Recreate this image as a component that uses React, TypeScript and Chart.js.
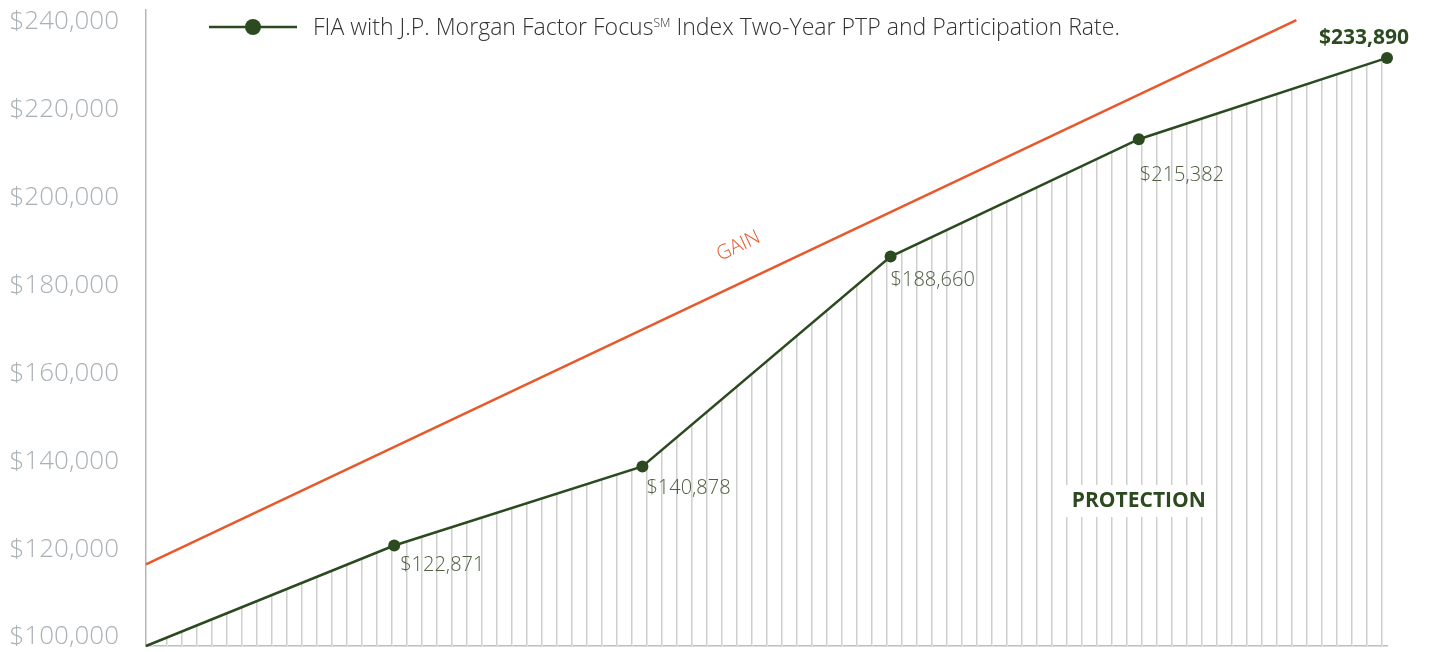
import React, { useEffect, useRef } from "react";
import { Chart, registerables } from "chart.js";

Chart.register(...registerables);

// ---- data ----
const years = [0, 2, 4, 6, 8, 10];
const fiaValues = [100000, 122871, 140878, 188660, 215382, 233890];
const gainYears = [0, 9.27];
const gainValues = [118600, 242500];
const yTickValues = [100000, 120000, 140000, 160000, 180000, 200000, 220000, 240000];
const legendParts = ["FIA with J.P. Morgan Factor Focus", "SM", " Index Two-Year PTP and Participation Rate."];
const gainText = "GAIN";
const protectionText = "PROTECTION";
const protectionAt = { x: 8, y: 133000 };

// ---- styles ----
const GREEN = "#2c4a1f";
const ORANGE = "#e8582a";
const LABEL_GREEN = "#4f5f40";
const FONT = "'Open Sans', 'DejaVu Sans', sans-serif";
const valueLabelOffsets = [
  [0, 0],
  [6, 20],
  [4, 22],
  [0, 24],
  [1, 36],
];

const fmt = (v: number) => "$" + v.toLocaleString("en-US");

const annotationsPlugin = {
  id: "annotations",
  afterDatasetsDraw(chart: any) {
    const ctx: CanvasRenderingContext2D = chart.ctx;
    const fiaMeta = chart.getDatasetMeta(0);
    const gainMeta = chart.getDatasetMeta(1);
    const xs = chart.scales.x;
    const ys = chart.scales.y;
    ctx.save();
    ctx.textBaseline = "middle";
    fiaValues.forEach((v, i) => {
      const pt = fiaMeta.data[i];
      if (i === 0) return;
      if (i === fiaValues.length - 1) {
        ctx.font = `bold 21px ${FONT}`;
        ctx.fillStyle = GREEN;
        ctx.textAlign = "right";
        ctx.fillText(fmt(v), pt.x + 22, pt.y - 20);
      } else {
        ctx.font = `300 20px ${FONT}`;
        ctx.fillStyle = LABEL_GREEN;
        ctx.textAlign = "left";
        const [dx, dy] = valueLabelOffsets[i];
        ctx.fillText(fmt(v), pt.x + dx, pt.y + dy);
      }
    });
    const g0 = gainMeta.data[0];
    const g1 = gainMeta.data[1];
    const ang = Math.atan2(g1.y - g0.y, g1.x - g0.x);
    const t = 0.515;
    const gx = g0.x + t * (g1.x - g0.x);
    const gy = g0.y + t * (g1.y - g0.y) - 38;
    ctx.save();
    ctx.translate(gx, gy);
    ctx.rotate(ang);
    ctx.font = `300 20px ${FONT}`;
    ctx.fillStyle = ORANGE;
    ctx.textAlign = "center";
    ctx.textBaseline = "middle";
    ctx.fillText(gainText, 0, 0);
    ctx.restore();
    const px = xs.getPixelForValue(protectionAt.x);
    const py = ys.getPixelForValue(protectionAt.y);
    ctx.font = `bold 21px ${FONT}`;
    const w = ctx.measureText(protectionText).width;
    ctx.fillStyle = "#ffffff";
    ctx.fillRect(px - w / 2 - 8, py - 16, w + 16, 32);
    ctx.fillStyle = GREEN;
    ctx.textAlign = "center";
    ctx.textBaseline = "middle";
    ctx.fillText(protectionText, px, py);
    ctx.restore();
  },
  afterDraw(chart: any) {
    const ctx: CanvasRenderingContext2D = chart.ctx;
    ctx.save();
    const ly = 27;
    ctx.strokeStyle = GREEN;
    ctx.lineWidth = 2.5;
    ctx.beginPath();
    ctx.moveTo(209, ly);
    ctx.lineTo(297, ly);
    ctx.stroke();
    ctx.fillStyle = GREEN;
    ctx.beginPath();
    ctx.arc(253, ly, 8, 0, Math.PI * 2);
    ctx.fill();
    const big = `300 23px ${FONT}`;
    const small = `300 12px ${FONT}`;
    ctx.font = big;
    const w1 = ctx.measureText(legendParts[0]).width;
    const w3 = ctx.measureText(legendParts[2]).width;
    ctx.font = small;
    const w2 = ctx.measureText(legendParts[1]).width;
    const total = w1 + w2 + w3;
    const s = 807 / total;
    ctx.translate(313, ly + 8);
    ctx.scale(s, 1);
    ctx.fillStyle = "#333333";
    ctx.textAlign = "left";
    ctx.textBaseline = "alphabetic";
    ctx.font = big;
    ctx.fillText(legendParts[0], 0, 0);
    ctx.font = small;
    ctx.fillText(legendParts[1], w1, -8);
    ctx.font = big;
    ctx.fillText(legendParts[2], w1 + w2, 0);
    ctx.restore();
  },
};

export default function App() {
  const ref = useRef<HTMLCanvasElement | null>(null);
  useEffect(() => {
    const canvas = ref.current;
    if (!canvas) return;
    const pc = document.createElement("canvas");
    pc.width = 15;
    pc.height = 4;
    const pctx = pc.getContext("2d")!;
    pctx.fillStyle = "#cfcfcf";
    pctx.fillRect(1, 0, 1, 4);
    pctx.fillStyle = "#e6e6e6";
    pctx.fillRect(2, 0, 1, 4);
    const pattern = canvas.getContext("2d")!.createPattern(pc, "repeat");

    const chart = new Chart(canvas, {
      type: "line",
      data: {
        datasets: [
          {
            label: legendParts[0] + "\u2120" + legendParts[2],
            data: years.map((x, i) => ({ x, y: fiaValues[i] })),
            borderColor: GREEN,
            borderWidth: 2.5,
            backgroundColor: pattern as any,
            fill: "start",
            pointRadius: fiaValues.map((_, i) => (i === 0 ? 0 : 6)),
            pointBackgroundColor: GREEN,
            pointBorderWidth: 0,
            tension: 0,
            clip: false as any,
          },
          {
            label: "Gain",
            data: gainYears.map((x, i) => ({ x, y: gainValues[i] })),
            borderColor: ORANGE,
            borderWidth: 2.5,
            pointRadius: 0,
            fill: false,
            tension: 0,
            clip: false as any,
          },
        ],
      },
      options: {
        responsive: false,
        animation: false,
        events: [],
        layout: { padding: { top: 10, right: 42, bottom: 0, left: 0 } },
        plugins: {
          legend: { display: false },
          tooltip: { enabled: false },
        },
        scales: {
          x: {
            type: "linear",
            min: 0,
            max: 10,
            ticks: { display: false },
            grid: { display: false, drawTicks: false },
            border: { display: true, color: "#b9c0c4", width: 1.5 },
            afterFit: (s: any) => {
              s.height = 5;
              s.paddingLeft = 0;
              s.paddingRight = 0;
            },
          },
          y: {
            type: "linear",
            min: 100000,
            max: 244800,
            afterBuildTicks: (s: any) => {
              s.ticks = yTickValues.map((v) => ({ value: v }));
            },
            afterFit: (s: any) => {
              s.width = 146;
              s.paddingTop = 0;
              s.paddingBottom = 0;
            },
            grid: { display: false, drawTicks: false },
            border: { display: true, color: "#b5b5b5", width: 1.5 },
            ticks: {
              callback: (v: any) => fmt(Number(v)),
              font: { family: FONT, size: 26, weight: "300" as any },
              color: "#aab1b6",
              padding: 27,
              labelOffset: -9,
            },
          },
        },
      },
      plugins: [annotationsPlugin],
    });
    return () => chart.destroy();
  }, []);

  return (
    <div style={{ position: "fixed", left: 0, top: 0, width: 1429, height: 652, background: "#fff" }}>
      <canvas ref={ref} width={1429} height={652} style={{ display: "block" }} />
    </div>
  );
}
